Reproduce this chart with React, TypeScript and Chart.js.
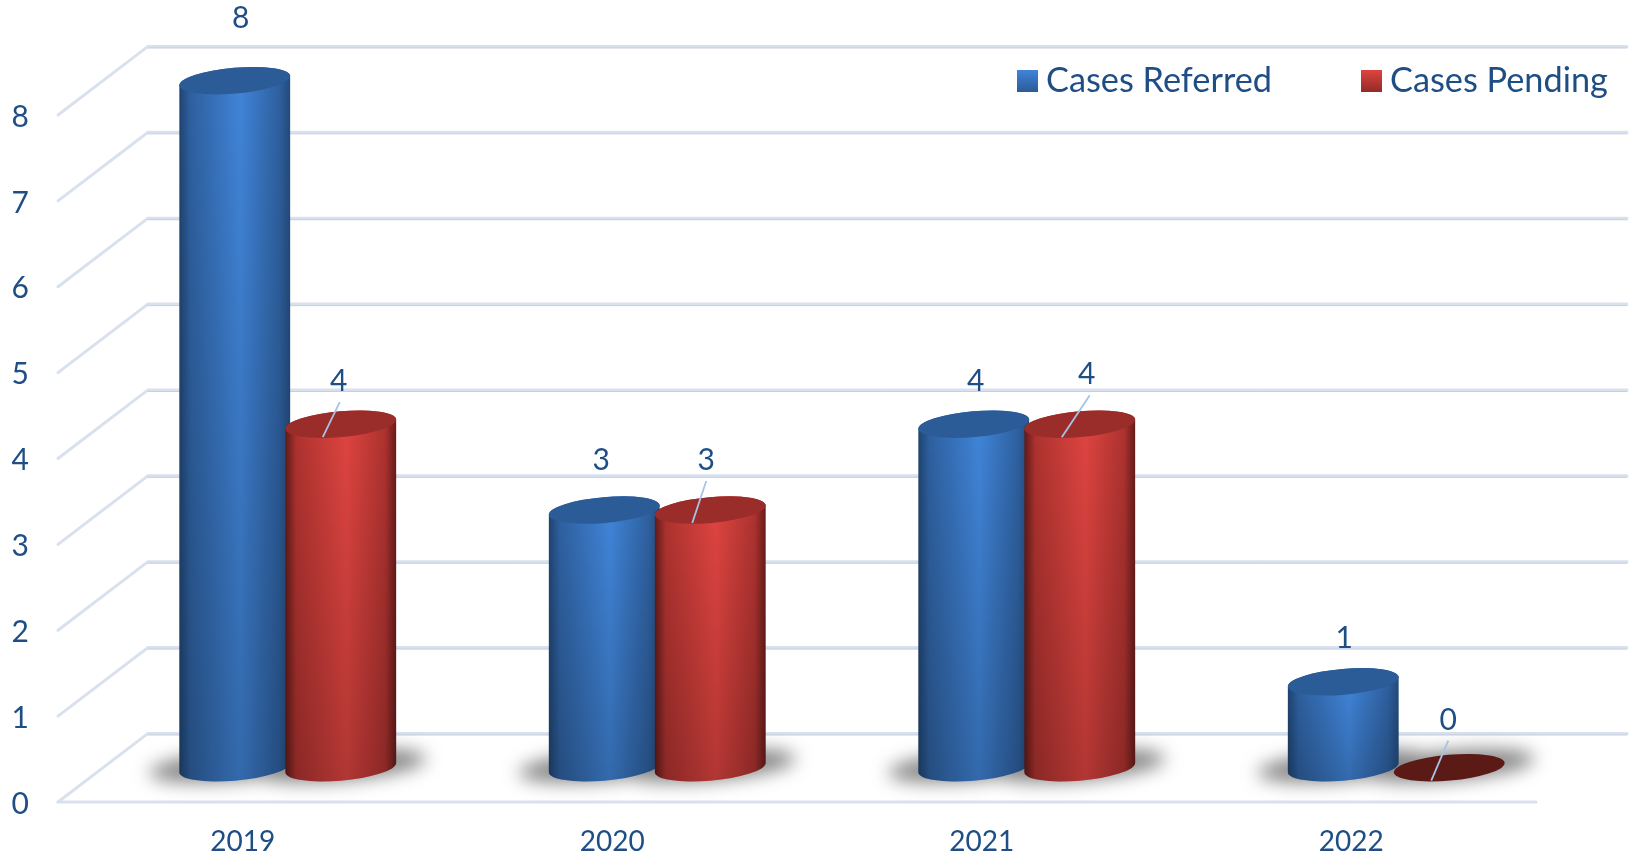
import React, { useEffect, useRef } from "react";
import { Chart, registerables } from "chart.js";

Chart.register(...registerables);

const categories = ["2019", "2020", "2021", "2022"];
const casesReferred = [8, 3, 4, 1];
const casesPending = [4, 3, 4, 0];

const FONT = "Lato, Carlito, 'Open Sans', sans-serif";
const TEXT = "#1f4e85";
const GRID = "#d9e1ee";
const GRID_EDGE = "#bcc6d6";
const DEPTH_X = 90;
const DEPTH_Y = 68.6;
const TILT = (-5 * Math.PI) / 180;
const MINOR = 12.9;

const looks = [
  { edge: "#1f4370", soft: "#2e609f", bright: "#4084d8", edge2: "#234a7a", cap: "#2b5c98", flat: "#2b5c98" },
  { edge: "#5e1a18", soft: "#ad322f", bright: "#de4440", edge2: "#641c1a", cap: "#9a2d2a", flat: "#5c1a17" },
];
// label offset from the cylinder's top centre, per dataset and category
const labelOffsets = [
  [[6, -62], [-3, -50], [2, -43], [1, -43]],
  [[-2, -43], [-4, -50], [7, -50], [-1, -47]],
];
const leaderStart = [-18, 13];
const leaderEndGap = [[1, 21], [0, 21], [3, 21], [0, 20]];

const cylinders = {
  id: "cylinders",
  beforeDatasetsDraw(chart: any) {
    const { ctx, scales } = chart;
    const y = scales.y;
    const x = scales.x;
    const left = x.left;
    ctx.save();
    ctx.lineCap = "round";
    y.ticks.forEach((t: any) => {
      const py = y.getPixelForValue(t.value);
      const by = py - DEPTH_Y;
      ctx.strokeStyle = GRID;
      ctx.lineWidth = 3;
      ctx.beginPath();
      ctx.moveTo(left, py);
      ctx.lineTo(left + DEPTH_X, by);
      ctx.lineTo(chart.width - 3, by);
      ctx.stroke();
      ctx.strokeStyle = GRID_EDGE;
      ctx.lineWidth = 0.8;
      ctx.beginPath();
      ctx.moveTo(left + DEPTH_X, by + 1.6);
      ctx.lineTo(chart.width - 3, by + 1.6);
      ctx.stroke();
    });
    const floor = y.getPixelForValue(0);
    ctx.strokeStyle = GRID;
    ctx.lineWidth = 3.2;
    ctx.beginPath();
    ctx.moveTo(left, floor);
    ctx.lineTo(x.right, floor);
    ctx.stroke();
    ctx.restore();
  },
  beforeDatasetDraw() {
    return false;
  },
  afterDatasetsDraw(chart: any) {
    const { ctx } = chart;
    const metas = [chart.getDatasetMeta(0), chart.getDatasetMeta(1)];

    // soft floor shadow under every cylinder
    ctx.save();
    ctx.filter = "blur(9px)";
    ctx.fillStyle = "rgba(70,70,70,0.66)";
    ctx.beginPath();
    metas.forEach((meta: any) => {
      meta.data.forEach((el: any) => {
        const cx = el.x + DEPTH_X / 2;
        const cy = el.base - DEPTH_Y / 2 - 2;
        ctx.moveTo(cx + el.width / 2 + 30, cy);
        ctx.ellipse(cx, cy, el.width / 2 + 30, 15, TILT, 0, Math.PI * 2);
      });
    });
    ctx.fill();
    ctx.restore();

    metas.forEach((meta: any, ds: number) => {
      const look = looks[ds];
      meta.data.forEach((el: any, i: number) => {
        const cx = el.x + DEPTH_X / 2;
        const topY = el.y - DEPTH_Y / 2;
        const baseY = el.base - DEPTH_Y / 2;
        const a = el.width / 2;
        const t = Math.atan((-MINOR / a) * Math.tan(TILT));
        const hasBody = baseY - topY > 0.5;
        ctx.save();
        if (hasBody) {
          const body = new Path2D();
          body.ellipse(cx, baseY, a, MINOR, TILT, t, t + Math.PI, false);
          body.ellipse(cx, topY, a, MINOR, TILT, t + Math.PI, t + 2 * Math.PI, false);
          body.closePath();
          const g = ctx.createLinearGradient(cx - a, 0, cx + a, 0);
          g.addColorStop(0, look.edge);
          g.addColorStop(0.1, look.soft);
          g.addColorStop(0.55, look.bright);
          g.addColorStop(0.9, look.soft);
          g.addColorStop(1, look.edge2);
          ctx.fillStyle = g;
          ctx.fill(body);
          const v = ctx.createLinearGradient(0, topY, 0, baseY + MINOR);
          v.addColorStop(0, "rgba(0,0,0,0)");
          v.addColorStop(1, "rgba(0,0,0,0.2)");
          ctx.fillStyle = v;
          ctx.fill(body);
        }
        ctx.fillStyle = hasBody ? look.cap : look.flat;
        ctx.beginPath();
        ctx.ellipse(cx, topY, a, MINOR, TILT, 0, Math.PI * 2);
        ctx.fill();
        ctx.restore();
      });
    });

    // data labels and leader lines
    const datasets = chart.data.datasets;
    ctx.save();
    ctx.font = `30px ${FONT}`;
    ctx.textAlign = "center";
    ctx.textBaseline = "middle";
    metas.forEach((meta: any, ds: number) => {
      meta.data.forEach((el: any, i: number) => {
        const cx = el.x + DEPTH_X / 2;
        const topY = el.y - DEPTH_Y / 2;
        const [ox, oy] = labelOffsets[ds][i];
        if (ds === 1) {
          const [gx, gy] = leaderEndGap[i];
          ctx.strokeStyle = "#a6c3e6";
          ctx.lineWidth = 1.8;
          ctx.beginPath();
          ctx.moveTo(cx + leaderStart[0], topY + leaderStart[1]);
          ctx.lineTo(cx + ox + gx, topY + oy + gy);
          ctx.stroke();
        }
        ctx.fillStyle = TEXT;
        ctx.fillText(String(datasets[ds].data[i]), cx + ox, topY + oy);
      });
    });
    ctx.restore();

    // legend
    const legendSpots = [1017, 1361];
    ctx.save();
    ctx.font = `34.3px ${FONT}`;
    ctx.textAlign = "left";
    ctx.textBaseline = "middle";
    datasets.forEach((d: any, ds: number) => {
      const lx = legendSpots[ds];
      const g = ctx.createLinearGradient(0, 70, 0, 92);
      g.addColorStop(0, looks[ds].bright);
      g.addColorStop(1, ds === 0 ? "#2b5c98" : "#942a27");
      ctx.fillStyle = g;
      ctx.fillRect(lx, 70, 21, 22);
      ctx.fillStyle = TEXT;
      ctx.fillText(d.label, lx + 29, 81);
    });
    ctx.restore();
  },
};

export default function App() {
  const ref = useRef<HTMLCanvasElement | null>(null);
  useEffect(() => {
    const chart = new Chart(ref.current as HTMLCanvasElement, {
      type: "bar",
      data: {
        labels: categories,
        datasets: [
          { label: "Cases Referred", data: casesReferred, backgroundColor: "#4084d8", categoryPercentage: 0.5738, barPercentage: 1.049 },
          { label: "Cases Pending", data: casesPending, backgroundColor: "#de4440", categoryPercentage: 0.5738, barPercentage: 1.049 },
        ],
      },
      options: {
        responsive: false,
        animation: false,
        layout: { padding: { top: 115, right: 94, left: 0, bottom: 0 } },
        plugins: { legend: { display: false }, tooltip: { enabled: false } },
        scales: {
          x: {
            grid: { display: false },
            border: { display: false },
            ticks: { color: TEXT, font: { family: FONT, size: 28 }, padding: 15, maxRotation: 0 },
            afterFit: (s: any) => { s.height = 55; },
          },
          y: {
            min: 0,
            max: 8,
            grid: { display: false },
            border: { display: false },
            ticks: { stepSize: 1, color: TEXT, font: { family: FONT, size: 30 }, padding: 21, labelOffset: 2 },
            afterFit: (s: any) => { s.width = 58; },
          },
        },
      },
      plugins: [cylinders],
    } as any);
    return () => chart.destroy();
  }, []);
  return (
    <div style={{ position: "absolute", left: 0, top: 0, width: 1630, height: 857, background: "#fff" }}>
      <canvas ref={ref} width={1630} height={857} style={{ display: "block" }} />
    </div>
  );
}
